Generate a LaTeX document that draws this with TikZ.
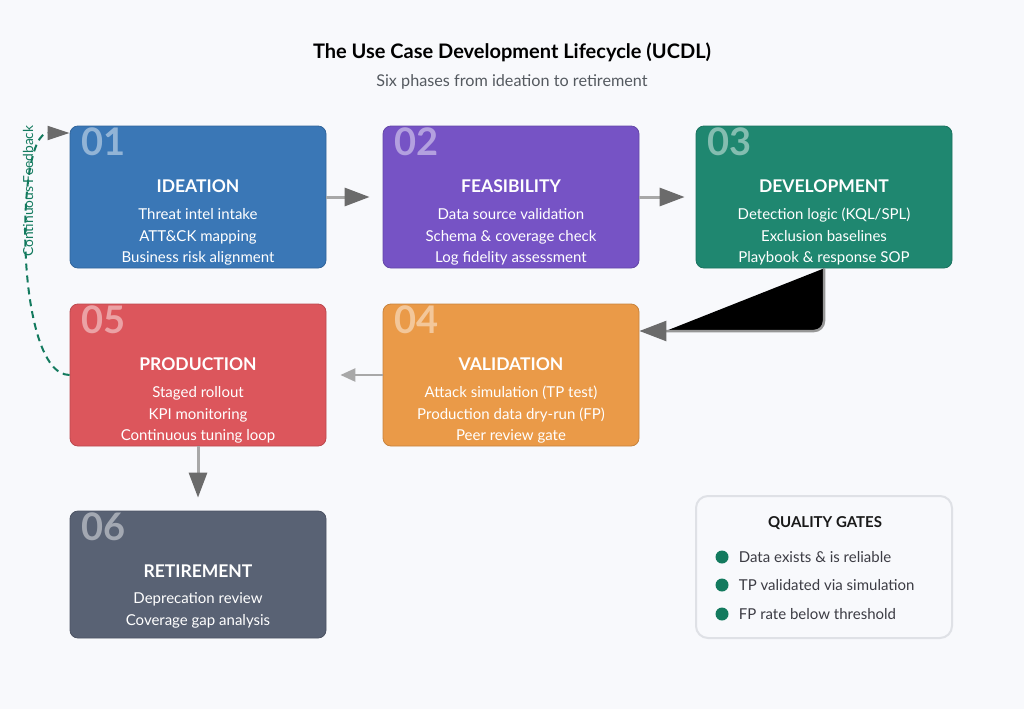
\documentclass[tikz,border=0pt]{standalone}
\usepackage{fontspec}
\setmainfont{Lato}
\usetikzlibrary{arrows.meta,positioning,calc}

\definecolor{bgC}{HTML}{F8F9FC}
\definecolor{ideaC}{HTML}{3A77B6}
\definecolor{feasC}{HTML}{7653C5}
\definecolor{devC}{HTML}{1F8770}
\definecolor{prodC}{HTML}{DC565C}
\definecolor{valC}{HTML}{EA9A48}
\definecolor{retC}{HTML}{596274}
\definecolor{gateC}{HTML}{137A5E}
\definecolor{flowC}{HTML}{A8A8A8}
\definecolor{headC}{HTML}{6B6B6B}
\definecolor{frameC}{HTML}{DFE1E6}
\definecolor{subC}{HTML}{555A60}
\definecolor{itemC}{HTML}{3C3C44}

\begin{document}
\begin{tikzpicture}[x=1pt, y=-1pt,
  phase/.style={rectangle, rounded corners=8pt, minimum width=256pt, minimum height=142pt, line width=0.8pt, inner sep=0pt},
  phasenum/.style={anchor=base west, inner sep=0pt, font=\fontsize{38}{38}\selectfont\bfseries, text=white, text opacity=0.45},
  phasetitle/.style={inner sep=0pt, font=\fontsize{17.5}{20}\selectfont\bfseries, text=white},
  phasebody/.style={anchor=base, align=center, inner sep=0pt, font=\fontsize{15}{21.5}\selectfont, text=white},
  flow/.style={line width=3pt, draw=flowC, -{Triangle[length=25pt, width=18pt, color=headC]}},
  gatedot/.style={circle, fill=gateC, minimum size=13pt, inner sep=0pt},
  gateitem/.style={anchor=west, inner sep=0pt, font=\fontsize{15}{17}\selectfont, text=itemC}
]
  \fill[bgC] (0,0) rectangle (1024,709);
  \useasboundingbox (0,0) rectangle (1024,709);

  % --- Kopf ---
  \node (title) at (512,52) {\fontsize{20}{23}\selectfont\bfseries The Use Case Development Lifecycle (UCDL)};
  \node (subtitle) [text=subC] at (512,82) {\fontsize{16.2}{19}\selectfont Six phases from ideation to retirement};

  % --- Phasen ---
  \node (ide) [phase, fill=ideaC, draw=ideaC!85!black] at (198,197) {};
  \node [phasenum] at ($(ide.north west)+(12,30)$) {01};
  \node [phasetitle] at (198,186.5) {IDEATION};
  \node [phasebody] at (198,262.5) {Threat intel intake\\ATT\&CK mapping\\Business risk alignment};

  \node (fea) [phase, fill=feasC, draw=feasC!85!black] at (511,197) {};
  \node [phasenum] at ($(fea.north west)+(12,30)$) {02};
  \node [phasetitle] at (511,186.5) {FEASIBILITY};
  \node [phasebody] at (511,262.5) {Data source validation\\Schema \& coverage check\\Log fidelity assessment};

  \node (dev) [phase, fill=devC, draw=devC!85!black] at (824,197) {};
  \node [phasenum] at ($(dev.north west)+(12,30)$) {03};
  \node [phasetitle] at (824,186.5) {DEVELOPMENT};
  \node [phasebody] at (824,262.5) {Detection logic (KQL/SPL)\\Exclusion baselines\\Playbook \& response SOP};

  \node (val) [phase, fill=valC, draw=valC!85!black] at (511,375) {};
  \node [phasenum] at ($(val.north west)+(12,30)$) {04};
  \node [phasetitle] at (511,364.5) {VALIDATION};
  \node [phasebody] at (511,440.5) {Attack simulation (TP test)\\Production data dry-run (FP)\\Peer review gate};

  \node (pro) [phase, fill=prodC, draw=prodC!85!black] at (198,375) {};
  \node [phasenum] at ($(pro.north west)+(12,30)$) {05};
  \node [phasetitle] at (198,364.5) {PRODUCTION};
  \node [phasebody] at (198,440.5) {Staged rollout\\KPI monitoring\\Continuous tuning loop};

  \node (ret) [phase, minimum height=127pt, fill=retC, draw=retC!85!black] at (198,574.5) {};
  \node [phasenum] at ($(ret.north west)+(12,30)$) {06};
  \node [phasetitle] at (198,571.5) {RETIREMENT};
  \node [phasebody] at (198,625) {Deprecation review\\Coverage gap analysis};

  % --- Uebergaenge ---
  \draw[flow, shorten >=13pt] (ide.east) -- (fea.west);
  \draw[flow, shorten >=11pt] (fea.east) -- (dev.west);
  \draw[line width=2.5pt, draw=flowC!90!black, fill=black, rounded corners=10pt,
        -{Triangle[length=27pt, width=20pt, color=headC]}] (dev.south) |- ($(val.east)+(0,-44)$);
  \draw[line width=2.5pt, draw=flowC, shorten >=14pt,
        -{Triangle[length=15pt, width=13pt, color=flowC]}] (val.west) -- (pro.east);
  \draw[flow, shorten >=13pt] (pro.south) -- (ret.north);

  % Rueckkopplung
  \draw[gateC, line width=2pt, dash pattern=on 7pt off 5pt,
        -{Triangle[length=22pt, width=14pt, color=headC]}]
    (pro.west) .. controls +(-55,0) and +(-55,0) .. ($(ide.west)+(0,-64)$);
  \node (fbl) [rotate=90, text=gateC, inner sep=0pt, font=\fontsize{13.8}{16}\selectfont] at (28,191) {Continuous Feedback};

  % --- Qualitaetsgates ---
  \node (gates) [rectangle, rounded corners=12pt, minimum width=256pt, minimum height=142pt,
                 fill=bgC, draw=frameC, line width=2pt] at (824,567) {};
  \node (gtitle) [font=\fontsize{15}{17}\selectfont\bfseries, text=black!90] at (825,523) {QUALITY GATES};
  \node (g1) [gatedot] at (722,557) {};
  \node [gateitem, right=10pt of g1] {Data exists \& is reliable};
  \node (g2) [gatedot] at (722,585) {};
  \node [gateitem, right=10pt of g2] {TP validated via simulation};
  \node (g3) [gatedot] at (722,614) {};
  \node [gateitem, right=10pt of g3] {FP rate below threshold};
\end{tikzpicture}
\end{document}
